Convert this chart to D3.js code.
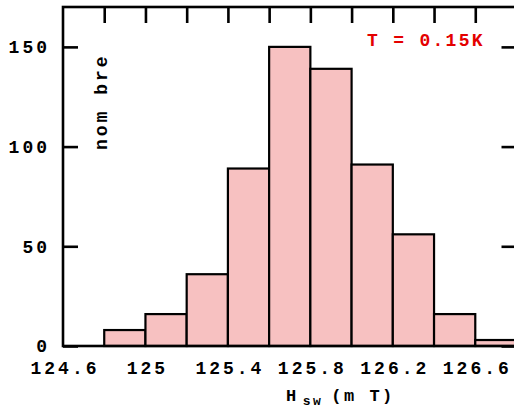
<!DOCTYPE html>
<html><head><meta charset="utf-8">
<script src="https://cdn.jsdelivr.net/npm/d3@7"></script>
<style>
body{margin:0;background:#fff}
text{font-family:"Liberation Mono","Courier New",monospace;font-weight:bold}
</style></head>
<body><svg id="c" width="514" height="408"></svg>
<script>
const binStarts = [124.8,125.0,125.2,125.4,125.6,125.8,126.0,126.2,126.4,126.6];
const counts    = [8,16,36,89,150,139,91,56,16,3];
const binWidth = 0.2;
const xTicks = [124.6,125,125.4,125.8,126.2,126.6];
const xTickLabels = ["124.6","125","125.4","125.8","126.2","126.6"];
const xMinorTicks = [124.8,125.0,125.2,125.4,125.6,125.8,126.0,126.2,126.4,126.6];
const yTicks = [0,50,100,150];
const yTickLabels = ["0","50","100","150"];

const svg = d3.select("#c");
const x = d3.scaleLinear().domain([124.6,126.8]).range([63,516.5]);
const y = d3.scaleLinear().domain([0,170]).range([346,7]);

// bars
svg.append("g").selectAll("rect").data(binStarts).join("rect")
  .attr("x", d=>x(d)).attr("width", d=>x(d+binWidth)-x(d))
  .attr("y", (d,i)=>y(counts[i])).attr("height",(d,i)=>y(0)-y(counts[i]))
  .attr("fill","#f7c1c1").attr("stroke","#000").attr("stroke-width",2.2);

// frame
svg.append("rect").attr("x",x(124.6)).attr("y",y(170))
  .attr("width",x(126.8)-x(124.6)).attr("height",y(0)-y(170))
  .attr("fill","none").attr("stroke","#000").attr("stroke-width",2.6);

// top ticks
svg.append("g").attr("transform",`translate(0,${y(170)})`)
  .call(d3.axisTop(x).tickValues(xMinorTicks).tickSize(-16).tickFormat(""))
  .call(g=>{g.select(".domain").remove();g.selectAll("line").attr("stroke","#000").attr("stroke-width",2.6);});

// left ticks & labels
svg.append("g").attr("transform",`translate(${x(124.6)},0)`)
  .call(d3.axisLeft(y).tickValues(yTicks).tickSize(-15).tickPadding(13).tickFormat((d,i)=>yTickLabels[i]))
  .call(g=>{g.select(".domain").remove();
    g.selectAll("line").attr("stroke","#000").attr("stroke-width",2.6);
    g.selectAll("text").attr("fill","#000").style("font-size","18px").style("letter-spacing","3px")
     .style("font-family","'Liberation Mono',monospace").style("font-weight","bold");});

// right ticks
svg.append("g").attr("transform",`translate(${x(126.8)},0)`)
  .call(d3.axisRight(y).tickValues(yTicks).tickSize(-15).tickFormat(""))
  .call(g=>{g.select(".domain").remove();g.selectAll("line").attr("stroke","#000").attr("stroke-width",2.6);});

// bottom labels
svg.append("g").attr("transform",`translate(0,${y(0)})`)
  .call(d3.axisBottom(x).tickValues(xTicks).tickSize(0).tickPadding(15).tickFormat((d,i)=>xTickLabels[i]))
  .call(g=>{g.select(".domain").remove();
    g.selectAll("text").attr("fill","#000").attr("dx","1.5px").style("font-size","18px").style("letter-spacing","3px")
     .style("font-family","'Liberation Mono',monospace").style("font-weight","bold");});

// x label
const xl = svg.append("text").attr("x",286).attr("y",401).style("font-size","17px").style("letter-spacing","2.5px");
xl.append("tspan").text("H");
xl.append("tspan").attr("dy",4).attr("dx",4).style("font-size","13px").text("sw");
xl.append("tspan").attr("dy",-4).attr("dx",8).text("(m T)");

// y label
svg.append("text").attr("transform","translate(107,150) rotate(-90)")
  .style("font-size","18px").style("letter-spacing","3px").text("nom bre");

// annotation
svg.append("text").attr("x",367).attr("y",46).attr("fill","#e40000")
  .style("font-size","18px").style("letter-spacing","2.3px").text("T = 0.15K");
</script></body></html>
